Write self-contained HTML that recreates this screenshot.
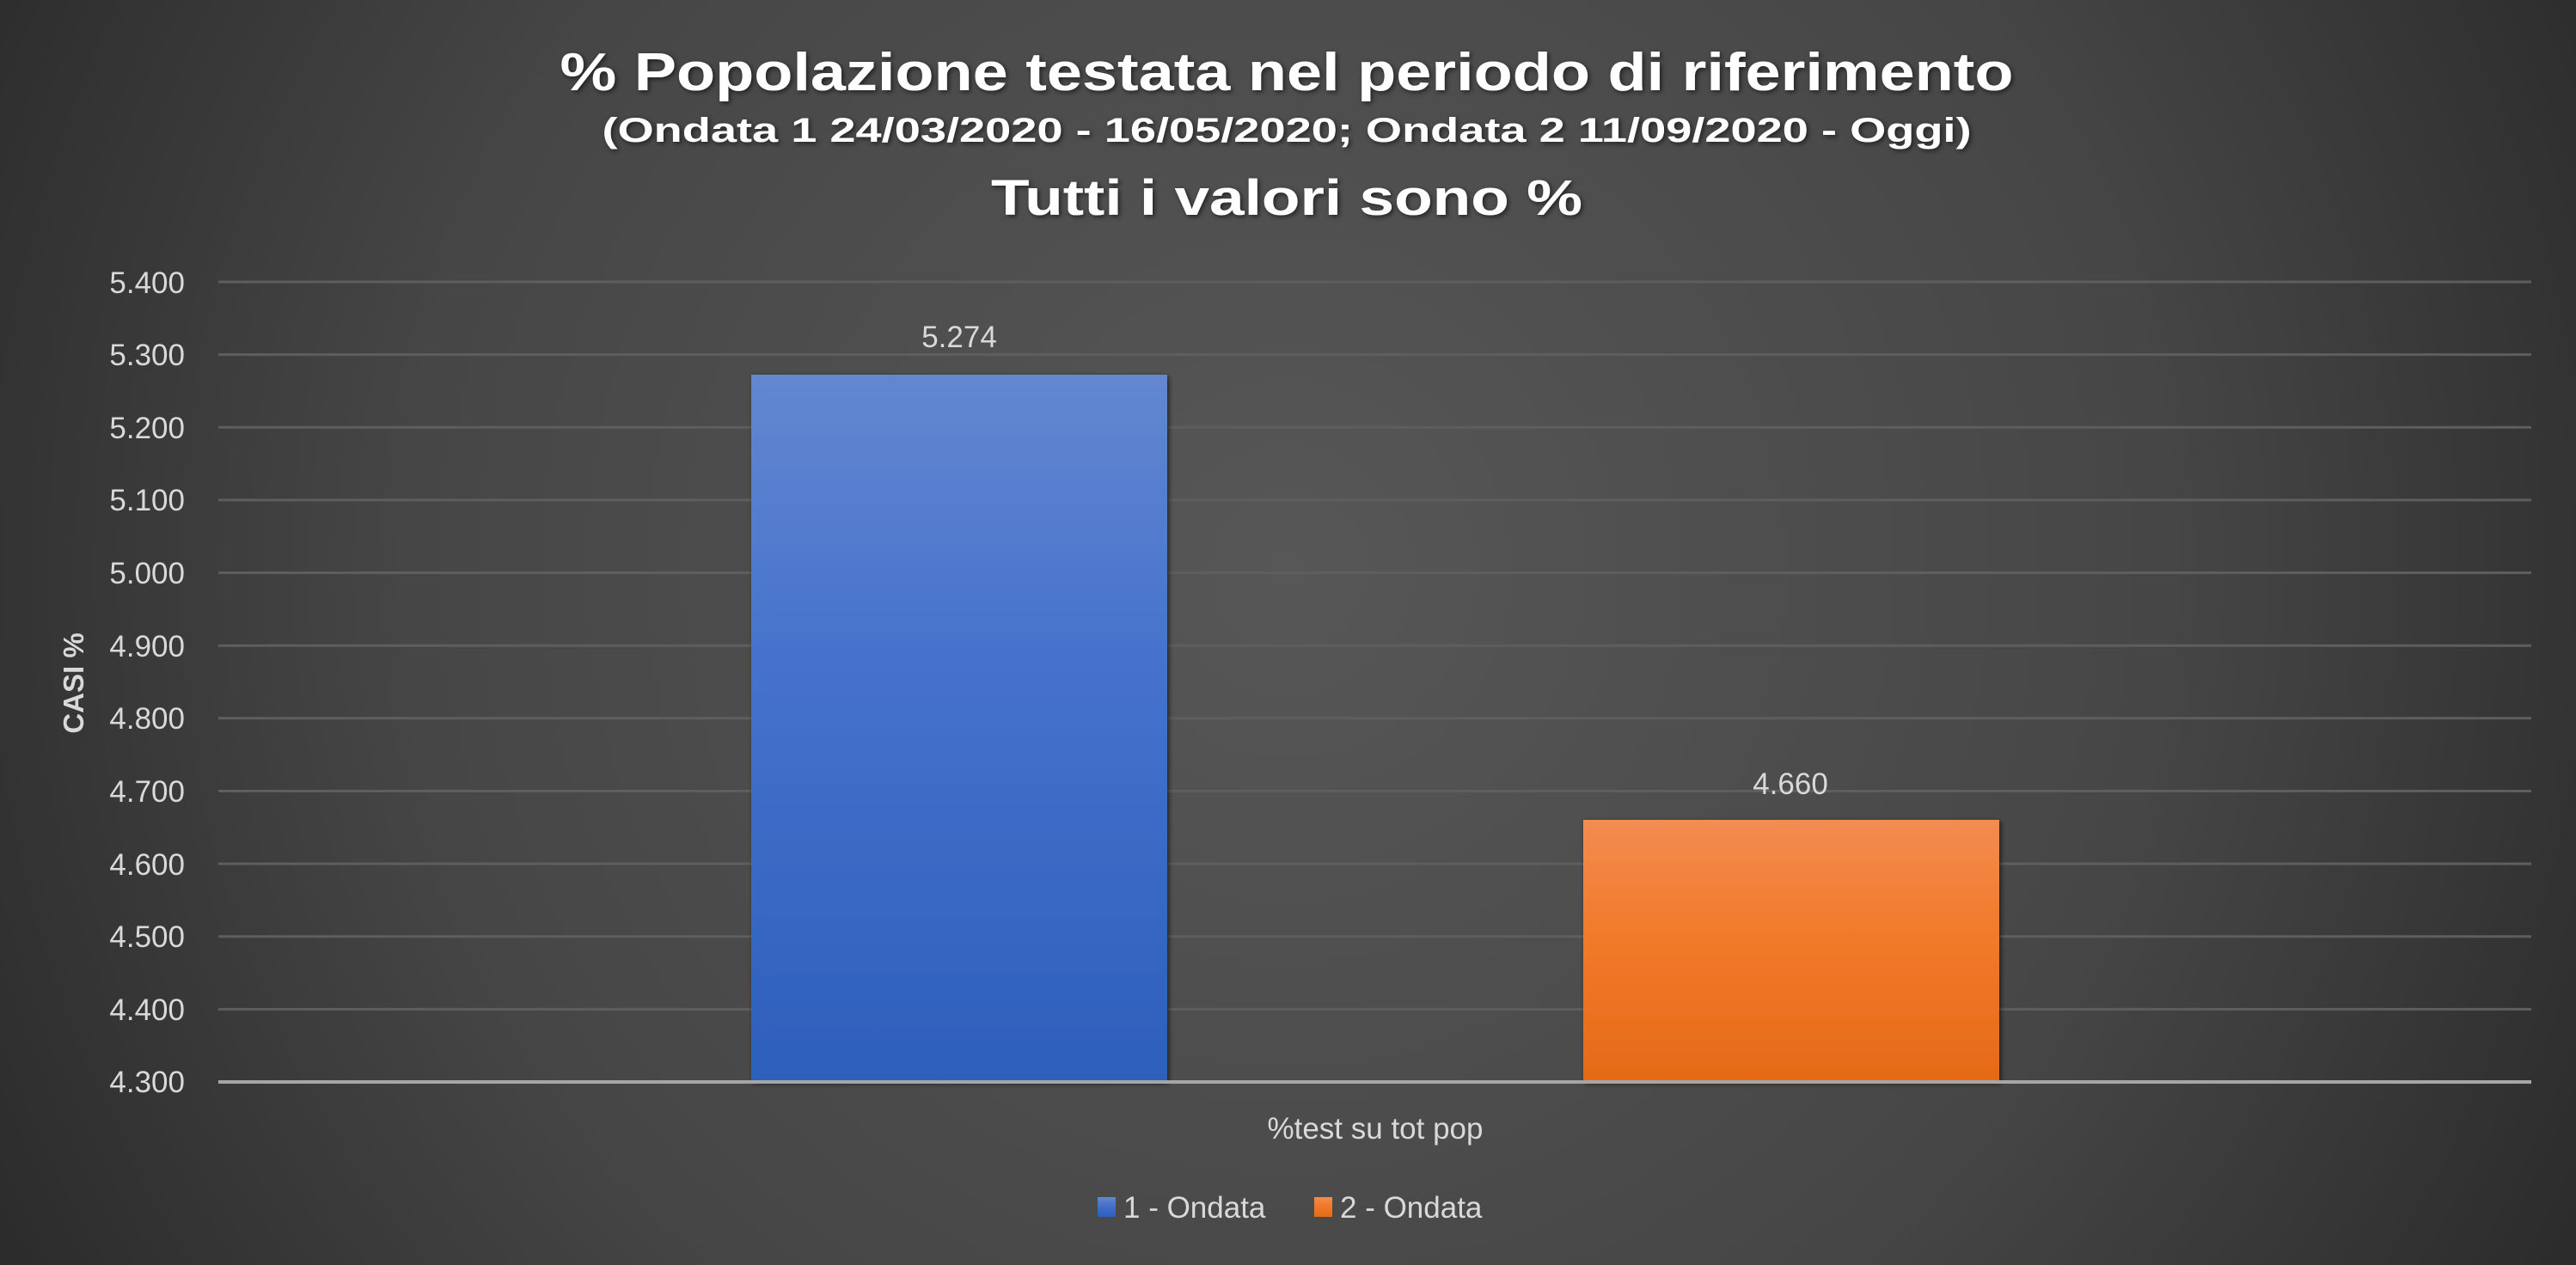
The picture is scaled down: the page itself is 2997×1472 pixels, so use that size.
<!DOCTYPE html>
<html><head><meta charset="utf-8"><style>
html,body{margin:0;padding:0;background:#3a3a3a}
svg{display:block}
text{font-family:"Liberation Sans",sans-serif}
</style></head><body>
<svg width="2997" height="1472" viewBox="0 0 2997 1472" xmlns="http://www.w3.org/2000/svg">
<defs>
<radialGradient id="bg" cx="50%" cy="45%" r="62%" gradientUnits="objectBoundingBox" gradientTransform="translate(0.5 0.45) scale(1 2.036) translate(-0.5 -0.45)">
<stop offset="0" stop-color="#575757"/><stop offset="0.55" stop-color="#464646"/><stop offset="1" stop-color="#252525"/>
</radialGradient>
<linearGradient id="b1" x1="0" y1="0" x2="0" y2="1"><stop offset="0" stop-color="#6387d0"/><stop offset="0.4" stop-color="#4672cc"/><stop offset="1" stop-color="#2d5fbc"/></linearGradient>
<linearGradient id="b2" x1="0" y1="0" x2="0" y2="1"><stop offset="0" stop-color="#f28c52"/><stop offset="0.4" stop-color="#f27b2c"/><stop offset="1" stop-color="#e56a17"/></linearGradient>
<filter id="sh" x="-10%" y="-10%" width="130%" height="130%"><feDropShadow dx="2" dy="2" stdDeviation="3" flood-color="#000" flood-opacity="0.6"/></filter>
</defs>
<rect width="2997" height="1472" fill="url(#bg)"/>
<g fill="#ffffff" font-weight="bold" text-anchor="middle" filter="url(#sh)">
<text x="1497" y="105" font-size="62" textLength="1691" lengthAdjust="spacingAndGlyphs">% Popolazione testata nel periodo di riferimento</text>
<text x="1497" y="165" font-size="40" textLength="1593" lengthAdjust="spacingAndGlyphs">(Ondata 1 24/03/2020 - 16/05/2020; Ondata 2 11/09/2020 - Oggi)</text>
<text x="1497" y="250" font-size="58" textLength="688" lengthAdjust="spacingAndGlyphs">Tutti i valori sono %</text>
</g>
<g stroke="#5e5e5e" stroke-width="3">
<line x1="254" x2="2945" y1="328" y2="328"/><line x1="254" x2="2945" y1="412.6" y2="412.6"/>
<line x1="254" x2="2945" y1="497.3" y2="497.3"/><line x1="254" x2="2945" y1="581.9" y2="581.9"/>
<line x1="254" x2="2945" y1="666.5" y2="666.5"/><line x1="254" x2="2945" y1="751.2" y2="751.2"/>
<line x1="254" x2="2945" y1="835.8" y2="835.8"/><line x1="254" x2="2945" y1="920.5" y2="920.5"/>
<line x1="254" x2="2945" y1="1005.1" y2="1005.1"/><line x1="254" x2="2945" y1="1089.7" y2="1089.7"/>
<line x1="254" x2="2945" y1="1174.4" y2="1174.4"/>
</g>
<rect x="874" y="436" width="484" height="823" fill="url(#b1)" filter="url(#sh)"/>
<rect x="1842" y="954" width="484" height="305" fill="url(#b2)" filter="url(#sh)"/>
<line x1="254" x2="2945" y1="1259" y2="1259" stroke="#a6a6a6" stroke-width="4"/>
<g fill="#d9d9d9" font-size="35" text-anchor="end">
<text x="215" y="341">5.400</text><text x="215" y="425">5.300</text><text x="215" y="510">5.200</text>
<text x="215" y="594">5.100</text><text x="215" y="679">5.000</text><text x="215" y="764">4.900</text>
<text x="215" y="848">4.800</text><text x="215" y="933">4.700</text><text x="215" y="1018">4.600</text>
<text x="215" y="1102">4.500</text><text x="215" y="1187">4.400</text><text x="215" y="1271">4.300</text>
</g>
<text transform="translate(97 795) rotate(-90)" text-anchor="middle" fill="#d9d9d9" font-size="33" font-weight="bold">CASI %</text>
<g fill="#d9d9d9" font-size="35" text-anchor="middle">
<text x="1116" y="404">5.274</text>
<text x="2083" y="924">4.660</text>
<text x="1600" y="1325">%test su tot pop</text>
</g>
<rect x="1277" y="1393" width="21" height="23" fill="url(#b1)"/>
<rect x="1529" y="1393" width="21" height="23" fill="url(#b2)"/>
<g fill="#d9d9d9" font-size="35">
<text x="1307" y="1417">1 - Ondata</text>
<text x="1559" y="1417">2 - Ondata</text>
</g>
</svg>
</body></html>
